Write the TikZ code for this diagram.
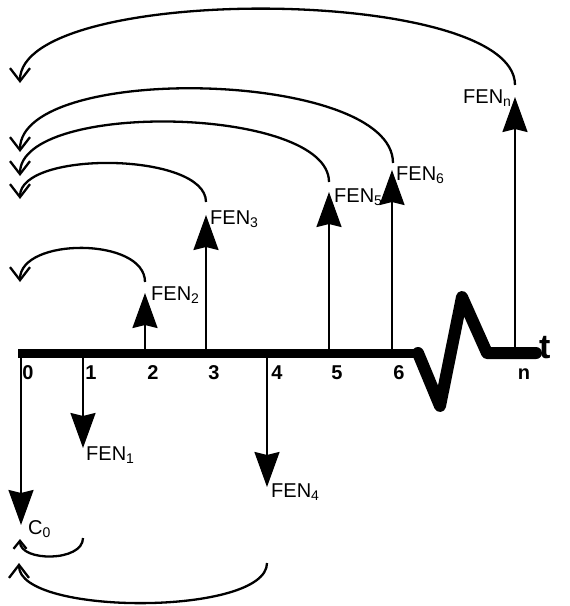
\documentclass[tikz,border=0pt]{standalone}
\usepackage{fontspec}
\setmainfont{Liberation Sans}
\usetikzlibrary{arrows.meta}
\tikzset{
  axisline/.style={line width=9pt},
  zigline/.style={line width=12pt, line join=round, line cap=round},
  cashflow/.style={line width=2.2pt, -{Stealth[length=35pt,width=25pt,inset=3pt]}},
  carry/.style={line width=2.3pt, -{Straight Barb[length=13pt,width=20pt]}},
  carrysmall/.style={line width=2.3pt, -{Straight Barb[length=8pt,width=13pt]}},
  tick/.style={font=\fontsize{20}{20}\selectfont\bfseries, anchor=base, inner sep=0pt},
  fen/.style={font=\fontsize{20}{20}\selectfont, anchor=base west, inner sep=0pt},
}
\begin{document}
\begin{tikzpicture}[x=1pt,y=-1pt]
\useasboundingbox (0,0) rectangle (570,606);
% axis
\coordinate (a0) at (21,353);
\coordinate (a1) at (83,353);
\coordinate (a2) at (145,353);
\coordinate (a3) at (206,353);
\coordinate (a4) at (267,353);
\coordinate (a5) at (329,353);
\coordinate (a6) at (392,353);
\coordinate (an) at (515,353);
\coordinate (start) at (18,353);
\coordinate (zz0) at (418,353);
\coordinate (zz1) at (440,406);
\coordinate (zz2) at (462,297);
\coordinate (zz3) at (487,353);
\coordinate (axend) at (536,353);
\draw[axisline] (start) -- (zz0);
\draw[zigline] (zz0) -- (zz1) -- (zz2) -- (zz3) -- (axend);
% tick labels
\node[tick] (l0) at (28,379) {0};
\node[tick] (l1) at (91,379) {1};
\node[tick] (l2) at (153,379) {2};
\node[tick] (l3) at (214,379) {3};
\node[tick] (l4) at (277,379) {4};
\node[tick] (l5) at (337,379) {5};
\node[tick] (l6) at (399,379) {6};
\node[tick] (ln) at (524,379) {n};
\node[font=\fontsize{34}{34}\selectfont\bfseries, anchor=base west, inner sep=0pt] (tt) at (539,358) {t};
% cash flow tips
\coordinate (t0) at (21,525);
\coordinate (t1) at (83,448);
\coordinate (t4) at (267,487);
\coordinate (t2) at (145,293);
\coordinate (t3) at (206,215);
\coordinate (t5) at (329,192);
\coordinate (t6) at (392,170);
\coordinate (tn) at (515,97);
\foreach \i in {0,1,2,3,4,5,6,n} {\draw[cashflow] (a\i) -- (t\i);}
% labels
\node[fen] (C0) at (28,534) {C\textsubscript{0}};
\node[fen] (F1) at (86,460) {FEN\textsubscript{1}};
\node[fen] (F2) at (151,300) {FEN\textsubscript{2}};
\node[fen] (F3) at (210,224) {FEN\textsubscript{3}};
\node[fen] (F4) at (271,497) {FEN\textsubscript{4}};
\node[fen] (F5) at (334,202) {FEN\textsubscript{5}};
\node[fen] (F6) at (396,180) {FEN\textsubscript{6}};
\node[fen] (Fn) at (463,103) {FEN\textsubscript{n}};
% carry arcs (compounding to 0)
\coordinate (sn) at (515,85);  \coordinate (en) at (20,83);
\coordinate (s6) at (393,163); \coordinate (e6) at (20,152);
\coordinate (s5) at (329,182); \coordinate (e5) at (20,176);
\coordinate (s3) at (206,202); \coordinate (e3) at (20,199);
\coordinate (s2) at (145,282); \coordinate (e2) at (20,282);
\coordinate (s1) at (83,538);  \coordinate (e1) at (20,539);
\coordinate (s4) at (267,563); \coordinate (e4) at (19,563);
\draw[carry] (sn) .. controls (515,-15) and (20,-17) .. (en);
\draw[carry] (s6) .. controls (393,70) and (20,62) .. (e6);
\draw[carry] (s5) .. controls (329,106) and (20,100) .. (e5);
\draw[carry] (s3) .. controls (206,152) and (20,150) .. (e3);
\draw[carry] (s2) .. controls (145,237) and (20,237) .. (e2);
\draw[carrysmall] (s1) .. controls (83,562) and (20,562) .. (e1);
\draw[carry] (s4) .. controls (267,616) and (19,616) .. (e4);
\end{tikzpicture}
\end{document}
